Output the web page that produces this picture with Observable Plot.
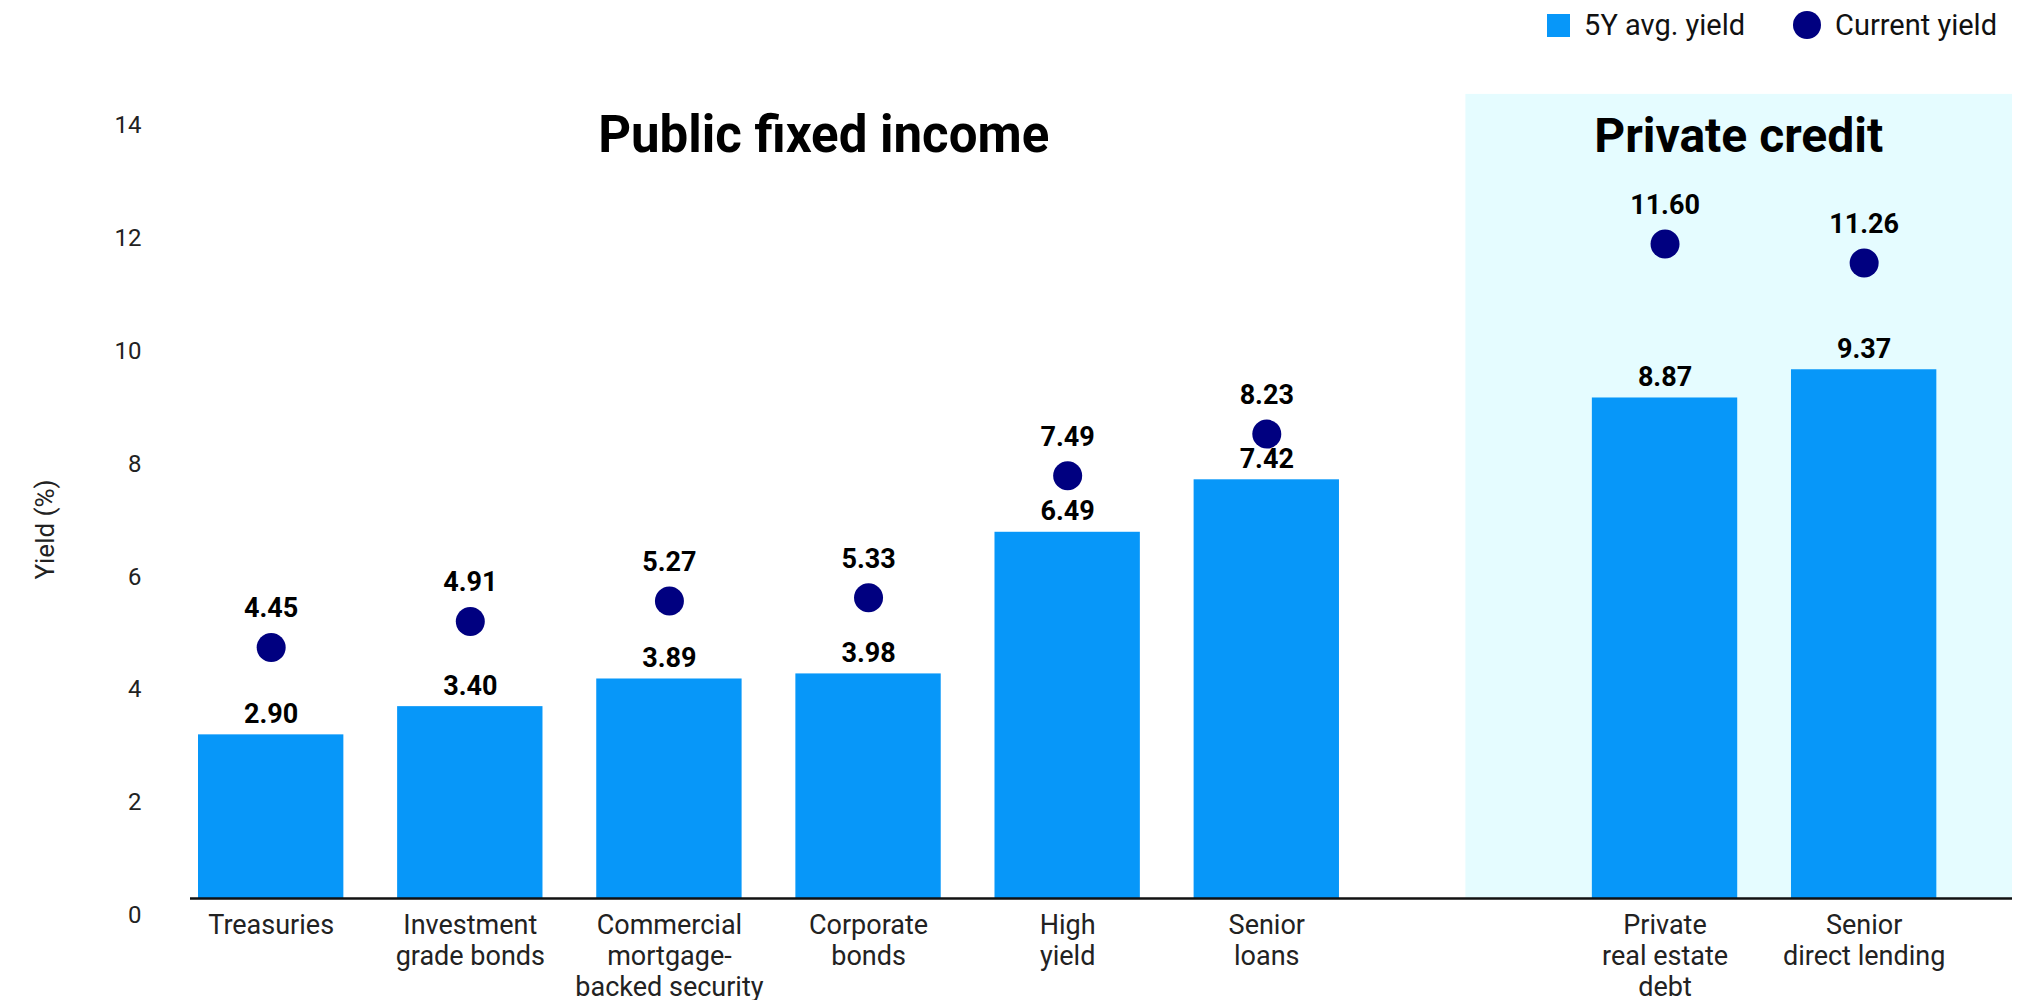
<!DOCTYPE html>
<html>
<head>
<meta charset="utf-8">
<script src="https://cdn.jsdelivr.net/npm/d3@7"></script>
<script src="https://cdn.jsdelivr.net/npm/@observablehq/plot@0.6"></script>
<style>
  html, body { margin: 0; padding: 0; background: #fff; overflow: hidden; }
  body { font-family: Roboto, "Liberation Sans", Arial, sans-serif; }
  #wrap { width: 2025px; }
  #legend { height: 50px; display: flex; justify-content: flex-end; align-items: center; padding-right: 28px; font-size: 29px; color: #111; }
  #legend .item { display: flex; align-items: center; }
  #legend .sw { display: inline-block; margin-right: 14px; }
  #legend .sq { width: 23px; height: 23px; }
  #legend .ci { width: 28px; height: 28px; border-radius: 50%; margin-left: 48px; }
</style>
</head>
<body>
<div id="wrap">
  <div id="legend"></div>
  <div id="chart"></div>
</div>
<script>
// ---- data ----
const categories = ["Treasuries", "Investment grade bonds", "Commercial mortgage-backed security", "Corporate bonds", "High yield", "Senior loans", "Private real estate debt", "Senior direct lending"];
const tickLabels = ["Treasuries", "Investment\ngrade bonds", "Commercial\nmortgage-\nbacked security", "Corporate\nbonds", "High\nyield", "Senior\nloans", "Private\nreal estate\ndebt", "Senior\ndirect lending"];
const groups = ["public", "public", "public", "public", "public", "public", "private", "private"];
const avgYield = [2.90, 3.40, 3.89, 3.98, 6.49, 7.42, 8.87, 9.37];
const currentYield = [4.45, 4.91, 5.27, 5.33, 7.49, 8.23, 11.60, 11.26];
const yTicks = [0, 2, 4, 6, 8, 10, 12, 14];
const groupTitles = ["Public fixed income", "Private credit"];
const seriesNames = ["5Y avg. yield", "Current yield"];
const colors = ["#0797F9", "#000080"];
const panelColor = "#E5FCFF";

// ---- legend ----
const legend = document.getElementById("legend");
seriesNames.forEach((name, i) => {
  const item = document.createElement("span");
  item.className = "item";
  const sw = document.createElement("span");
  sw.className = "sw " + (i === 0 ? "sq" : "ci");
  sw.style.background = colors[i];
  item.appendChild(sw);
  item.appendChild(document.createTextNode(name));
  legend.appendChild(item);
});

// ---- table ----
const SPACER = " ";
const data = categories.map((c, i) => ({cat: c, label: tickLabels[i], group: groups[i], avg: avgYield[i], cur: currentYield[i]}));
const pub = data.filter(d => d.group === "public").map(d => d.cat);
const priv = data.filter(d => d.group === "private").map(d => d.cat);
const domain = [...pub, SPACER, ...priv];
const labelOf = new Map(data.map(d => [d.cat, d.label]));

const width = 2025, height = 950;
const marginLeft = 198, marginRight = 13, marginTop = 58, marginBottom = 102;
const FONT = "Roboto, 'Liberation Sans', Arial, sans-serif";

function panelAndTitles(index, scales, values, dimensions) {
  const x = scales.x, y = scales.y;
  const bw = typeof x.bandwidth === "function" ? x.bandwidth() : x.bandwidth;
  const left = dimensions.marginLeft - 8;
  const pLeft = x(SPACER) + bw / 2;
  const pRight = dimensions.width - dimensions.marginRight;
  const top = y(14.25), bottom = y(0);
  const g = d3.create("svg:g");
  g.append("rect")
    .attr("x", pLeft).attr("y", top)
    .attr("width", pRight - pLeft).attr("height", bottom - top)
    .attr("fill", panelColor);
  const centers = [(left + pLeft) / 2 - 4, (pLeft + pRight) / 2];
  const sizes = [51, 48];
  groupTitles.forEach((t, i) => {
    g.append("text")
      .attr("x", centers[i]).attr("y", y(13.22))
      .attr("text-anchor", "middle")
      .attr("font-family", FONT)
      .attr("font-weight", 700)
      .attr("font-size", sizes[i])
      .attr("fill", "#000")
      .text(t);
  });
  return g.node();
}

const chart = Plot.plot({
  width, height, marginLeft, marginRight, marginTop, marginBottom,
  style: {fontFamily: FONT, background: "transparent", overflow: "visible"},
  x: {type: "band", domain, paddingInner: 0.27, paddingOuter: 0.19, align: 0, round: false},
  y: {domain: [0, 14]},
  marks: [
    panelAndTitles,
    Plot.barY(data, {x: "cat", y: "avg", fill: colors[0]}),
    Plot.ruleY([0], {stroke: "#111", strokeWidth: 2.5, insetLeft: -8}),
    Plot.text(data, {x: "cat", y: "avg", text: d => d.avg.toFixed(2), lineAnchor: "bottom", dy: -12, fontSize: 27, fontWeight: 700, fill: "#000"}),
    Plot.dot(data, {x: "cat", y: "cur", r: 14.5, fill: colors[1], stroke: null}),
    Plot.text(data, {x: "cat", y: "cur", text: d => d.cur.toFixed(2), lineAnchor: "bottom", dy: -30, fontSize: 27, fontWeight: 700, fill: "#000"}),
    Plot.axisY({ticks: yTicks, tickSize: 0, tickPadding: 57, dy: 17, fontSize: 24, fill: "#222", label: null}),
    Plot.axisX({tickSize: 0, tickPadding: 13, fontSize: 27, lineHeight: 1.15, fill: "#222", label: null, tickFormat: d => labelOf.get(d) ?? ""}),
    Plot.text(["Yield (%)"], {frameAnchor: "left", textAnchor: "middle", rotate: -90, dx: -153, dy: 26, fontSize: 26, fill: "#222"})
  ]
});
document.getElementById("chart").appendChild(chart);
</script>
</body>
</html>
